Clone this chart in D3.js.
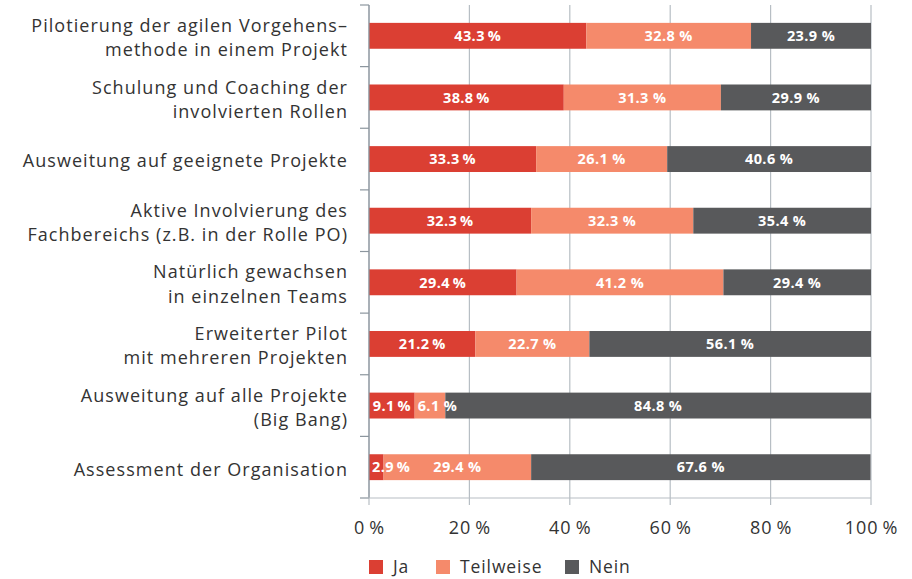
<!DOCTYPE html>
<html>
<head>
<meta charset="utf-8">
<script src="https://cdn.jsdelivr.net/npm/d3@7"></script>
<style>
  body { margin:0; background:#fff; }
  svg text { font-family: "Open Sans", sans-serif; }
</style>
</head>
<body>
<svg id="chart" width="912" height="579"></svg>
<script>
// data
var categories = [
  ["Pilotierung der agilen Vorgehens–", "methode in einem Projekt"],
  ["Schulung und Coaching der", "involvierten Rollen"],
  ["Ausweitung auf geeignete Projekte"],
  ["Aktive Involvierung des", "Fachbereichs (z.B. in der Rolle PO)"],
  ["Natürlich gewachsen", "in einzelnen Teams"],
  ["Erweiterter Pilot", "mit mehreren Projekten"],
  ["Ausweitung auf alle Projekte", "(Big Bang)"],
  ["Assessment der Organisation"]
];
var ja        = [43.3, 38.8, 33.3, 32.3, 29.4, 21.2, 9.1, 2.9];
var teilweise = [32.8, 31.3, 26.1, 32.3, 41.2, 22.7, 6.1, 29.4];
var nein      = [23.9, 29.9, 40.6, 35.4, 29.4, 56.1, 84.8, 67.6];
var seriesNames = ["Ja", "Teilweise", "Nein"];
var colors = ["#db3f33", "#f58a6b", "#58595b"];
var xTicks = [0, 20, 40, 60, 80, 100];

var svg = d3.select("#chart");
var margin = {top: 5, left: 369, right: 41, bottom: 81};
var width = 912 - margin.left - margin.right;
var height = 579 - margin.top - margin.bottom;

var g = svg.append("g").attr("transform", "translate(" + margin.left + "," + margin.top + ")");

var x = d3.scaleLinear().domain([0, 100]).range([0, width]);
var y = d3.scaleBand().domain(d3.range(categories.length)).range([0, height]).paddingInner(0.58).paddingOuter(0.29);

// gridlines
g.selectAll(".grid").data(xTicks).enter().append("line")
  .attr("class", "grid")
  .attr("x1", function(d){ return x(d); }).attr("x2", function(d){ return x(d); })
  .attr("y1", 0).attr("y2", height + 7)
  .attr("stroke", "#b7bec4").attr("stroke-width", 1.2);

var rows = categories.map(function(c, i){
  return {i: i, vals: [ja[i], teilweise[i], nein[i]]};
});

var rowG = g.selectAll(".row").data(rows).enter().append("g")
  .attr("class", "row")
  .attr("transform", function(d){ return "translate(0," + y(d.i) + ")"; });

rowG.each(function(d){
  var sel = d3.select(this);
  var acc = 0;
  var segs = d.vals.map(function(v, k){
    var s = {k: k, v: v, x0: acc, x1: acc + v};
    acc += v;
    return s;
  });
  sel.selectAll("rect").data(segs).enter().append("rect")
    .attr("x", function(s){ return x(s.x0); })
    .attr("width", function(s){ return x(s.x1) - x(s.x0); })
    .attr("y", 0).attr("height", y.bandwidth())
    .attr("fill", function(s){ return colors[s.k]; });

  var prevEnd = -Infinity;
  segs.forEach(function(s){
    var label = s.v.toFixed(1) + (s.k === 0 ? "\u2009%" : " %");
    var t = sel.append("text")
      .attr("y", y.bandwidth() / 2)
      .attr("dy", "0.36em")
      .attr("fill", "#fff")
      .attr("font-weight", "bold")
      .attr("font-size", 14.5)
      .attr("letter-spacing", 0.4)
      .text(label);
    var w = t.node().getComputedTextLength();
    var cx = (x(s.x0) + x(s.x1)) / 2;
    var left = cx - w / 2;
    if (left < x(s.x0) + 3 && w > x(s.x1) - x(s.x0)) left = x(s.x0) + 3;
    if (left < prevEnd + 6) left = prevEnd + 6;
    t.attr("x", left);
    prevEnd = left + w;
  });
});

// category labels
var labG = g.selectAll(".cat").data(categories).enter().append("text")
  .attr("class", "cat")
  .attr("text-anchor", "end")
  .attr("x", -21)
  .attr("font-size", 18)
  .attr("letter-spacing", 1.05)
  .attr("fill", "#333")
  .attr("transform", function(d, i){ return "translate(0," + (y(i) + y.bandwidth() / 2) + ")"; });
labG.each(function(lines){
  var t = d3.select(this);
  var n = lines.length;
  lines.forEach(function(line, j){
    t.append("tspan").attr("x", -21)
      .attr("y", (j - (n - 1) / 2) * 24.5 + 2)
      .attr("dy", "0.35em")
      .text(line);
  });
});

// left axis with ticks at band boundaries
var bounds = d3.range(categories.length + 1).map(function(i){ return i * y.step() ; });
g.append("line").attr("x1", 0).attr("x2", 0).attr("y1", 0).attr("y2", height)
  .attr("stroke", "#8c969e").attr("stroke-width", 1.2);
g.selectAll(".ytick").data(bounds).enter().append("line")
  .attr("class", "ytick")
  .attr("x1", -9).attr("x2", 0)
  .attr("y1", function(d){ return d; }).attr("y2", function(d){ return d; })
  .attr("stroke", "#8c969e").attr("stroke-width", 1.2);
g.append("line").attr("x1", -9).attr("x2", width).attr("y1", height).attr("y2", height)
  .attr("stroke", "#b7bec4").attr("stroke-width", 1.2);

// x axis labels
var xAxis = d3.axisBottom(x).tickValues(xTicks).tickSize(0).tickPadding(23)
  .tickFormat(function(d){ return d + "\u2009%"; });
var ax = g.append("g").attr("transform", "translate(0," + height + ")").call(xAxis);
ax.select(".domain").remove();
ax.selectAll("text").attr("font-size", 18).attr("letter-spacing", 1).attr("fill", "#333")
  .style("font-family", "'Open Sans', sans-serif");

// legend
var legendX = [0, 67, 196];
var leg = g.selectAll(".leg").data(seriesNames).enter().append("g")
  .attr("class", "leg")
  .attr("transform", function(d, i){ return "translate(" + legendX[i] + "," + (height + 69) + ")"; });
leg.append("rect").attr("width", 14).attr("height", 14).attr("y", -7)
  .attr("fill", function(d, i){ return colors[i]; });
leg.append("text").attr("x", 24).attr("dy", "0.35em").attr("font-size", 17.5).attr("letter-spacing", 0.9)
  .attr("fill", "#333")
  .text(function(d){ return d; });
</script>
</body>
</html>
